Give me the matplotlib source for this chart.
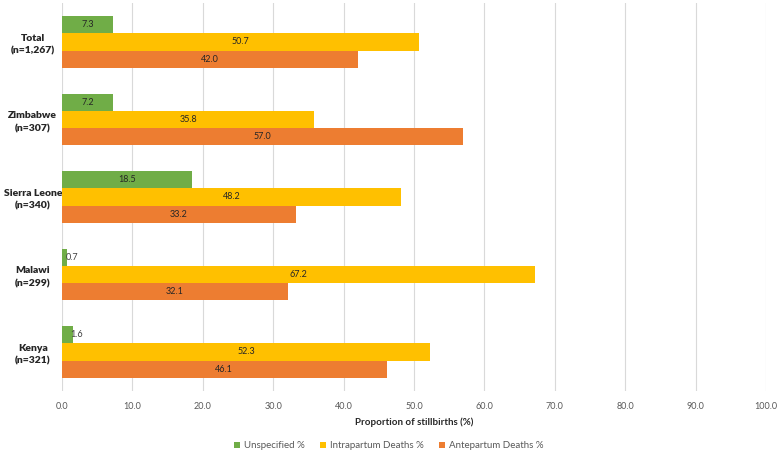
import matplotlib.pyplot as plt
import numpy as np

plt.rcParams['font.family'] = ['Lato', 'DejaVu Sans']

countries = ['Total\n(n=1,267)', 'Zimbabwe\n(n=307)', 'Sierra Leone\n(n=340)',
             'Malawi\n(n=299)', 'Kenya\n(n=321)']
unspecified = [7.3, 7.2, 18.5, 0.7, 1.6]
intrapartum = [50.7, 35.8, 48.2, 67.2, 52.3]
antepartum = [42.0, 57.0, 33.2, 32.1, 46.1]
ticks = np.arange(0, 101, 10)

fig = plt.figure(figsize=(7.78, 4.51), dpi=100)
ax = fig.add_axes([0.0797, 0.1336, 0.9049, 0.8592])

y = np.arange(len(countries))
h = 0.22
series = [(unspecified, '#70AD47', 'Unspecified %', -h),
          (intrapartum, '#FFC000', 'Intrapartum Deaths %', 0),
          (antepartum, '#ED7D31', 'Antepartum Deaths %', h)]
for vals, col, lab, off in series:
    bars = ax.barh(y + off, vals, height=h, color=col, label=lab, zorder=3)
    for b, v in zip(bars, vals):
        cy = b.get_y() + b.get_height() / 2
        if v < 3:
            ax.text(v * 0.7, cy, f'{v:.1f}', ha='left', va='center', fontsize=6.5,
                    color='#404040', zorder=4)
        else:
            ax.text(v / 2, cy, f'{v:.1f}', ha='center', va='center', fontsize=6.5,
                    color='#262626', zorder=4)

ax.set_ylim(len(countries) - 0.5, -0.5)
ax.set_xlim(0, 100)
ax.set_xticks(ticks)
ax.set_xticklabels([f'{t:.1f}' for t in ticks], fontsize=6.5, color='#595959')
ax.set_yticks(y)
ax.set_yticklabels(countries, fontsize=7.5, fontweight='heavy', color='#262626',
                   ha='center', linespacing=1.5)
ax.tick_params(axis='y', length=0, pad=21)
ax.tick_params(axis='x', length=0, pad=8)
ax.grid(axis='x', color='#D9D9D9', linewidth=0.8, zorder=0)
for s in ax.spines.values():
    s.set_visible(False)
ax.set_xlabel('Proportion of stillbirths (%)', fontsize=7, fontweight='bold',
              color='#262626', labelpad=5)

fig.legend(loc='lower center', bbox_to_anchor=(0.5, -0.018), ncol=3, frameon=False,
           fontsize=7, handlelength=0.6, handleheight=0.6, columnspacing=1.6,
           handletextpad=0.4, labelcolor='#595959')

fig.savefig('out.png', dpi=100)
